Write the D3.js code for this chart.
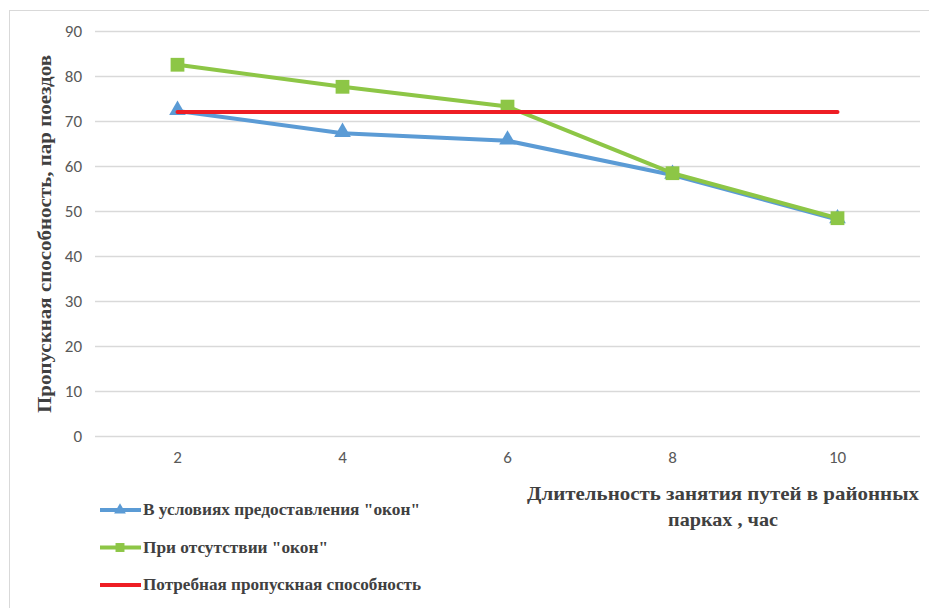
<!DOCTYPE html>
<html>
<head>
<meta charset="utf-8">
<script src="https://cdn.jsdelivr.net/npm/d3@7"></script>
<style>
  body { margin: 0; background: #fff; }
  text { font-family: Calibri, Carlito, "Liberation Sans", sans-serif; }
</style>
</head>
<body>
<div id="chart"></div>
<script>
    // data
    const hours = [2, 4, 6, 8, 10];
    const withWindows = [72.2, 67.3, 65.6, 58.0, 48.1];
    const noWindows = [82.5, 77.6, 73.2, 58.4, 48.4];
    const required = [72, 72, 72, 72, 72];
    const yTicks = [0, 10, 20, 30, 40, 50, 60, 70, 80, 90];

    const seriesNames = ['В условиях предоставления "окон"', 'При отсутствии "окон"', 'Потребная пропускная способность'];
    const seriesColors = ['#5B9BD5', '#8DC646', '#EE1D24'];
    const seriesMarkers = ['triangle', 'square', null];
    const seriesData = [withWindows, noWindows, required];

    const W = 929, H = 608;
    const margin = { top: 31, right: 9, bottom: 172, left: 95 };
    const width = W - margin.left - margin.right;
    const height = H - margin.top - margin.bottom;

    const root = d3.select('#chart').append('svg')
        .attr('width', W)
        .attr('height', H);

    // outer chart border
    root.append('rect')
        .attr('x', 9.5).attr('y', 10.5)
        .attr('width', W).attr('height', H)
        .attr('fill', 'none')
        .attr('stroke', '#D9D9D9');

    const svg = root.append('g')
        .attr('transform', `translate(${margin.left},${margin.top})`);

    const x = d3.scaleBand()
        .domain(hours)
        .range([0, width]);

    const y = d3.scaleLinear()
        .domain([0, 90])
        .range([height, 0]);

    // gridlines + y labels
    svg.append('g')
        .call(d3.axisLeft(y).tickValues(yTicks).tickSize(-width).tickPadding(13))
        .attr('font-size', 17)
        .call(g => g.select('.domain').remove())
        .call(g => g.selectAll('line').attr('stroke', '#D9D9D9').attr('stroke-width', 1.3))
        .call(g => g.selectAll('text').attr('fill', '#595959'));

    // x labels
    svg.append('g')
        .attr('transform', `translate(0,${height})`)
        .call(d3.axisBottom(x).tickSize(0).tickPadding(15))
        .attr('font-size', 17)
        .call(g => g.select('.domain').remove())
        .call(g => g.selectAll('text').attr('fill', '#595959'));

    const line = d3.line()
        .x((d, i) => x(hours[i]) + x.bandwidth() / 2)
        .y(d => y(d));

    // draw order: blue, green, red on top
    seriesData.forEach((vals, k) => {
        svg.append('path')
            .datum(vals)
            .attr('fill', 'none')
            .attr('stroke', seriesColors[k])
            .attr('stroke-width', 4)
            .attr('stroke-linecap', 'round')
            .attr('stroke-linejoin', 'round')
            .attr('d', line);

        if (seriesMarkers[k]) {
            const sym = seriesMarkers[k] === 'triangle' ? d3.symbolTriangle : d3.symbolSquare;
            const sz = seriesMarkers[k] === 'triangle' ? 120 : 190;
            svg.selectAll(null)
                .data(vals)
                .enter()
                .append('path')
                .attr('d', d3.symbol().type(sym).size(sz))
                .attr('transform', (d, i) => `translate(${x(hours[i]) + x.bandwidth() / 2},${y(d) + (seriesMarkers[k] === 'triangle' ? -1 : 0)})`)
                .attr('fill', seriesColors[k]);
        }
    });

    // axis titles
    const titleFont = '"Liberation Serif", "Times New Roman", serif';
    root.append('text')
        .attr('transform', 'translate(51,234) rotate(-90)')
        .attr('text-anchor', 'middle')
        .attr('textLength', 358)
        .attr('lengthAdjust', 'spacingAndGlyphs')
        .style('font-family', titleFont)
        .style('font-weight', 'bold')
        .style('font-size', '19px')
        .attr('fill', '#404040')
        .text('Пропускная способность, пар поездов');

    const xTitle = ['Длительность занятия путей в районных', 'парках , час'];
    const xTitleLen = [392, 110];
    xTitle.forEach((t, i) => {
        root.append('text')
            .attr('x', 723)
            .attr('y', 500 + i * 26)
            .attr('text-anchor', 'middle')
            .attr('textLength', xTitleLen[i])
            .attr('lengthAdjust', 'spacingAndGlyphs')
            .style('font-family', titleFont)
            .style('font-weight', 'bold')
            .style('font-size', '19px')
            .attr('fill', '#404040')
            .text(t);
    });

    // legend
    const legendLen = [277, 185, 278];
    const legend = root.append('g');
    seriesNames.forEach((name, k) => {
        const ly = 510 + k * 37.5;
        legend.append('line')
            .attr('x1', 100).attr('x2', 141)
            .attr('y1', ly).attr('y2', ly)
            .attr('stroke', seriesColors[k])
            .attr('stroke-width', 4);
        if (seriesMarkers[k]) {
            const sym = seriesMarkers[k] === 'triangle' ? d3.symbolTriangle : d3.symbolSquare;
            legend.append('path')
                .attr('d', d3.symbol().type(sym).size(seriesMarkers[k] === 'triangle' ? 60 : 80))
                .attr('transform', `translate(120,${ly})`)
                .attr('fill', seriesColors[k]);
        }
        legend.append('text')
            .attr('x', 143)
            .attr('y', ly + 5)
            .attr('textLength', legendLen[k])
            .attr('lengthAdjust', 'spacingAndGlyphs')
            .style('font-family', titleFont)
            .style('font-weight', 'bold')
            .style('font-size', '16px')
            .attr('fill', '#404040')
            .text(name);
    });
</script>
</body>
</html>
